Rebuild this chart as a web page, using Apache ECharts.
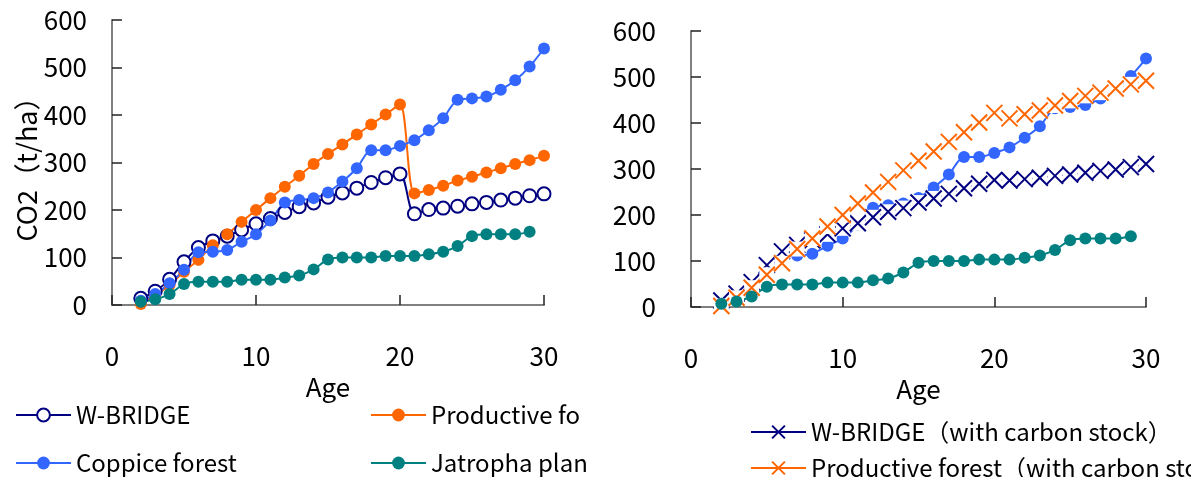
<!DOCTYPE html>
<html>
<head>
<meta charset="utf-8">
<script src="https://cdn.jsdelivr.net/npm/echarts@6/dist/echarts.min.js"></script>
<style>
  html, body { margin: 0; padding: 0; background: #fff; }
  #chart { width: 1191px; height: 477px; }
</style>
</head>
<body>
<div id="chart"></div>
<script>
// ages on the x axis
const ages = [2, 3, 4, 5, 6, 7, 8, 9, 10, 11, 12, 13, 14, 15, 16, 17, 18, 19, 20, 21, 22, 23, 24, 25, 26, 27, 28, 29, 30]
// CO2 (t/ha)
const wBridge = [14, 29, 54, 91, 121, 135, 145, 158, 171, 182, 195, 207, 215, 227, 236, 246, 258, 268, 276, 192, 201, 204, 208, 213, 216, 221, 225, 230, 234]
const productive = [2, 20, 42, 70, 95, 126, 149, 175, 200, 225, 249, 272, 297, 318, 338, 359, 380, 401, 422, 235, 242, 251, 262, 270, 279, 288, 297, 305, 314]
const coppice = [9, 23, 46, 74, 111, 112, 116, 133, 149, 178, 216, 221, 225, 237, 260, 288, 326, 326, 335, 347, 368, 393, 432, 435, 439, 453, 473, 502, 540]
// jatropha stops at age 29
const jatropha = [7, 12, 23, 44, 49, 49, 49, 53, 53, 53, 58, 62, 75, 96, 100, 100, 100, 103, 103, 103, 107, 112, 124, 145, 149, 149, 149, 154]
const wBridgeStock = [14, 29, 54, 91, 121, 135, 145, 158, 171, 182, 195, 207, 215, 227, 236, 246, 258, 268, 276, 275, 278, 281, 285, 288, 292, 296, 299, 304, 311]
const productiveStock = [2, 20, 42, 70, 95, 126, 149, 175, 200, 225, 249, 272, 297, 318, 338, 359, 380, 401, 422, 410, 419, 427, 438, 448, 459, 466, 475, 484, 492]
const xTicks = [0, 10, 20, 30]
const yTicks = [0, 100, 200, 300, 400, 500, 600]

const names = {
    wb: 'W-BRIDGE',
    pf: 'Productive forest',
    cf: 'Coppice forest',
    jp: 'Jatropha plantation',
    wbs: 'W-BRIDGE（with carbon stock）',
    pfs: 'Productive forest（with carbon stock）'
}
const colors = { wb: '#000080', pf: '#ff6600', cf: '#3366ff', jp: '#008080' }
const font = '"Noto Sans CJK JP", "Noto Sans", sans-serif'
const crossPath = 'path://M0,0L10,10M10,0L0,10'

const pairs = (vals) => vals.map((v, i) => [ages[i], v])

function xAxis(idx, gap) {
    return {
        type: 'value', gridIndex: idx,
        min: xTicks[0], max: xTicks[xTicks.length - 1], interval: 10,
        name: 'Age', nameLocation: 'middle', nameGap: gap,
        nameTextStyle: { color: '#000', fontSize: 26, fontFamily: font },
        axisLine: { lineStyle: { color: '#808080', width: 2 } },
        axisTick: { inside: true, length: 10, lineStyle: { color: '#222', width: 1.5 } },
        axisLabel: { margin: 38, color: '#000', fontSize: 26, fontFamily: font },
        splitLine: { show: false }
    }
}
function yAxis(idx, margin, title) {
    return {
        type: 'value', gridIndex: idx,
        min: yTicks[0], max: yTicks[yTicks.length - 1], interval: 100,
        name: title, nameLocation: 'middle', nameGap: 68, nameRotate: 90,
        nameTextStyle: { color: '#000', fontSize: 27, fontFamily: font },
        axisLine: { show: true, lineStyle: { color: '#808080', width: 2 } },
        axisTick: { show: true, inside: true, length: 10, lineStyle: { color: '#222', width: 1.5 } },
        axisLabel: { margin: margin, color: '#000', fontSize: 26, fontFamily: font },
        splitLine: { show: false }
    }
}
function dots(name, color, data, idx, empty) {
    return {
        name: name, type: 'line', xAxisIndex: idx, yAxisIndex: idx,
        data: data, smooth: 0.3,
        symbol: empty ? 'emptyCircle' : 'circle',
        symbolSize: empty ? 13 : 12,
        lineStyle: { color: color, width: 2 },
        itemStyle: empty ? { color: color, borderWidth: 2.5 } : { color: color },
        emphasis: { disabled: true }
    }
}
function crosses(name, color, data) {
    return {
        name: name, type: 'line', xAxisIndex: 1, yAxisIndex: 1,
        data: data, smooth: 0.3,
        symbol: crossPath, symbolSize: 16,
        lineStyle: { color: color, width: 1.5 },
        itemStyle: { color: color, borderColor: color, borderWidth: 2 },
        emphasis: { disabled: true }
    }
}
// white square behind each cross marker, like the spreadsheet draws it
function backing(data) {
    return {
        name: '_box', type: 'line', xAxisIndex: 1, yAxisIndex: 1,
        data: data, symbol: 'rect', symbolSize: 15, silent: true,
        lineStyle: { width: 0, opacity: 0 },
        itemStyle: { color: '#fff' },
        emphasis: { disabled: true }
    }
}
const legendText = (w) => ({ color: '#000', fontSize: 24, fontFamily: font, width: w, overflow: 'truncate', ellipsis: '' })
const legendBox = { orient: 'vertical', padding: 0, height: 120, itemWidth: 55, itemHeight: 16 }

const chart = echarts.init(document.getElementById('chart'))
chart.setOption({
    animation: false,
    grid: [
        { left: 112, top: 20, width: 432, height: 285 },
        { left: 691, top: 31, width: 455, height: 276 }
    ],
    xAxis: [xAxis(0, 68), xAxis(1, 66)],
    yAxis: [yAxis(0, 25, 'CO2（t/ha）'), yAxis(1, 35, '')],
    legend: [
        Object.assign({}, legendBox, {
            left: 15, top: 403, itemGap: 24,
            data: [names.wb, names.cf], textStyle: legendText(200)
        }),
        Object.assign({}, legendBox, {
            left: 370, top: 403, itemGap: 24,
            // the legend box cuts these two names short
            data: [
                { name: names.pf, textStyle: { width: 155 } },
                { name: names.jp, textStyle: { width: 162 } }
            ],
            textStyle: legendText(162)
        }),
        Object.assign({}, legendBox, {
            left: 750, top: 420, itemGap: 12, width: 441,
            data: [names.wbs, names.pfs], textStyle: legendText(400)
        })
    ],
    series: [
        dots(names.wb, colors.wb, pairs(wBridge), 0, true),
        dots(names.pf, colors.pf, pairs(productive), 0),
        dots(names.cf, colors.cf, pairs(coppice), 0),
        dots(names.jp, colors.jp, pairs(jatropha), 0),
        dots(names.cf, colors.cf, pairs(coppice), 1),
        backing(pairs(wBridgeStock)),
        crosses(names.wbs, colors.wb, pairs(wBridgeStock)),
        backing(pairs(productiveStock)),
        crosses(names.pfs, colors.pf, pairs(productiveStock)),
        dots(names.jp, colors.jp, pairs(jatropha), 1)
    ]
})
</script>
</body>
</html>
